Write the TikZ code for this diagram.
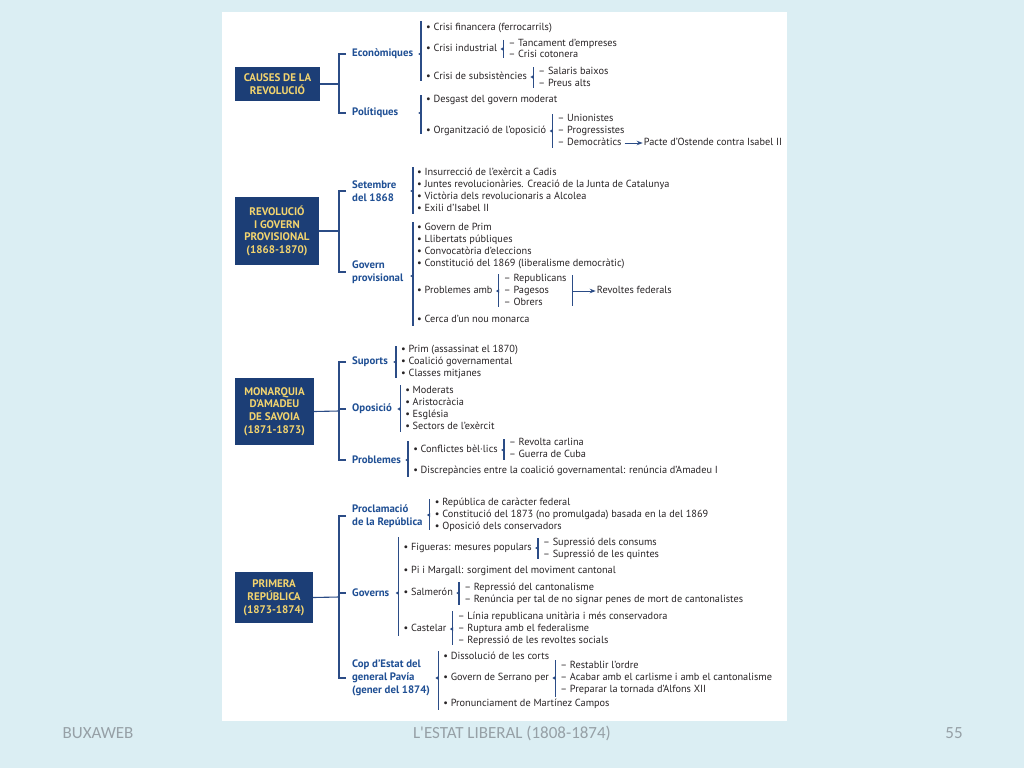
\documentclass[tikz,border=0pt]{standalone}
\usepackage{fontspec}
\setmainfont{PT Sans}
\newfontfamily\footfont{Carlito}
\usetikzlibrary{arrows.meta}
\definecolor{bgc}{RGB}{219,238,243}
\definecolor{navy}{RGB}{28,62,118}
\definecolor{gold}{RGB}{243,212,110}
\definecolor{lblue}{RGB}{31,79,148}
\definecolor{lcol}{RGB}{43,76,134}
\definecolor{txt}{RGB}{40,36,38}
\definecolor{foot}{RGB}{150,160,166}
\newcommand\mybrace[4]{%
  \draw[brc] (#1 |- 0,#2) -- (#1 |- 0,#3);
  \fill[lcol] (#1 |- 0,#4) ++(0.4,-2) -- ++(-3.2,2) -- ++(3.2,2) -- cycle;}
\begin{document}
\begin{tikzpicture}[x=1pt,y=-1pt,
  item/.style={anchor=west,inner sep=0pt,font=\fontsize{10.3}{12}\selectfont,text=txt,text height=7.3pt,text depth=2.3pt},
  lab/.style={anchor=west,inner sep=0pt,font=\fontsize{10.8}{12.8}\selectfont\bfseries,text=lblue,align=left},
  box/.style={fill=navy,text=gold,font=\fontsize{11}{12.8}\selectfont\bfseries,align=center,inner sep=0pt},
  mline/.style={draw=lcol,line width=1.1pt},
  brc/.style={draw=lcol,line width=1.2pt},
  arr/.style={draw=lcol,line width=1pt,-{Stealth[length=6pt,width=4.5pt]}},
  foottext/.style={font=\footfont\fontsize{17}{20}\selectfont,text=foot,inner sep=0pt}]
\useasboundingbox (0,0) rectangle (1024,768);
\fill[bgc] (0,0) rectangle (1024,768);
\fill[white] (222,12) rectangle (787,721);

% ---------- Section 1
\node[box,minimum width=85pt,minimum height=34pt] (b1) at (277.5,84) {CAUSES DE LA\\REVOLUCIÓ};
\node[lab] (eco) at (352,54) {Econòmiques};
\node[lab] (pol) at (352,113) {Polítiques};
\coordinate (j1) at (339,84);
\draw[mline] (b1.east) -- (j1);
\draw[mline] ([xshift=-6pt]eco.west) -| (j1) |- ([xshift=-6pt]pol.west);

\coordinate (be) at (421,0);
\mybrace{be}{21}{81}{54}
\node[item] (e1) at (426,28) {• Crisi financera (ferrocarrils)};
\node[item] (e2) at (426,49) {• Crisi industrial};
\coordinate (bci) at ([xshift=6pt]e2.east);
\mybrace{bci}{40}{58}{49}
\node[item,xshift=5pt] (ci1) at (bci |- 0,44) {– Tancament d'empreses};
\node[item,xshift=5pt] (ci2) at (bci |- 0,55) {– Crisi cotonera};
\node[item] (e3) at (426,77) {• Crisi de subsistències};
\coordinate (bcs) at ([xshift=6pt]e3.east);
\mybrace{bcs}{67}{88}{77}
\node[item,xshift=5pt] (cs1) at (bcs |- 0,72) {– Salaris baixos};
\node[item,xshift=5pt] (cs2) at (bcs |- 0,84) {– Preus alts};

\coordinate (bp) at (421,0);
\mybrace{bp}{95}{134}{113}
\node[item] (p1) at (426,100) {• Desgast del govern moderat};
\node[item] (p2) at (426,131) {• Organització de l'oposició};
\coordinate (boo) at ([xshift=6pt]p2.east);
\mybrace{boo}{114}{148}{131}
\node[item,xshift=5pt] (oo1) at (boo |- 0,119) {– Unionistes};
\node[item,xshift=5pt] (oo2) at (boo |- 0,131) {– Progressistes};
\node[item,xshift=5pt] (dem) at (boo |- 0,143) {– Democràtics};
\node[item] (pac) at ([xshift=22pt]dem.east) {Pacte d'Ostende contra Isabel II};
\draw[arr] ([xshift=3pt]dem.east) -- ([xshift=-1pt]pac.west);

% ---------- Section 2
\node[box,minimum width=84pt,minimum height=68pt] (b2) at (277,231) {REVOLUCIÓ\\I GOVERN\\PROVISIONAL\\(1868-1870)};
\node[lab] (set) at (352,191) {Setembre\\del 1868};
\node[lab] (gov) at (352,272) {Govern\\provisional};
\coordinate (j2) at (339,231);
\draw[mline] (b2.east) -- (j2);
\draw[mline] ([xshift=-6pt]set.west) -| (j2) |- ([xshift=-6pt]gov.west);

\coordinate (bs) at (413,0);
\mybrace{bs}{167}{214}{191}
\node[item] (s1) at (417,173) {• Insurrecció de l'exèrcit a Cadis};
\node[item] (s2) at (417,185) {• Juntes revolucionàries. Creació de la Junta de Catalunya};
\node[item] (s3) at (417,197) {• Victòria dels revolucionaris a Alcolea};
\node[item] (s4) at (417,209) {• Exili d'Isabel II};

\coordinate (bg) at (413,0);
\mybrace{bg}{222}{326}{276}
\node[item] (g1) at (417,228) {• Govern de Prim};
\node[item] (g2) at (417,240) {• Llibertats públiques};
\node[item] (g3) at (417,252) {• Convocatòria d'eleccions};
\node[item] (g4) at (417,264) {• Constitució del 1869 (liberalisme democràtic)};
\node[item] (pa) at (417,291) {• Problemes amb};
\node[item] (g6) at (417,320) {• Cerca d'un nou monarca};
\coordinate (bpa) at ([xshift=6pt]pa.east);
\mybrace{bpa}{274}{307}{291}
\node[item,xshift=5pt] (rep) at (bpa |- 0,279) {– Republicans};
\node[item,xshift=5pt] (pag) at (bpa |- 0,291) {– Pagesos};
\node[item,xshift=5pt] (obr) at (bpa |- 0,303) {– Obrers};
\coordinate (rb) at ([xshift=6pt]rep.east);
\draw[brc] (rb |- 0,275) -- (rb |- 0,306);
\node[item,xshift=24pt] (rf) at (rb |- 0,291) {Revoltes federals};
\draw[arr] (rb |- 0,291) -- ([xshift=-1pt]rf.west);

% ---------- Section 3
\node[box,minimum width=79pt,minimum height=67pt] (b3) at (274.5,411.5) {MONARQUIA\\D'AMADEU\\DE SAVOIA\\(1871-1873)};
\node[lab] (sup) at (352,362) {Suports};
\node[lab] (opo) at (352,409) {Oposició};
\node[lab] (prb) at (352,460) {Problemes};
\coordinate (j3) at (339,411);
\draw[mline] (b3.east) -- (j3);
\draw[mline] ([xshift=-6pt]sup.west) -| (j3) |- ([xshift=-6pt]prb.west);
\draw[mline] (j3 |- opo.west) -- ([xshift=-6pt]opo.west);

\coordinate (bsu) at ([xshift=8pt]sup.east);
\mybrace{bsu}{346}{378}{362}
\node[item,xshift=5pt] (su1) at (bsu |- 0,350) {• Prim (assassinat el 1870)};
\node[item,xshift=5pt] (su2) at (bsu |- 0,362) {• Coalició governamental};
\node[item,xshift=5pt] (su3) at (bsu |- 0,374) {• Classes mitjanes};

\coordinate (bop) at ([xshift=8pt]opo.east);
\mybrace{bop}{385}{432}{409}
\node[item,xshift=5pt] (op1) at (bop |- 0,391) {• Moderats};
\node[item,xshift=5pt] (op2) at (bop |- 0,403) {• Aristocràcia};
\node[item,xshift=5pt] (op3) at (bop |- 0,415) {• Església};
\node[item,xshift=5pt] (op4) at (bop |- 0,427) {• Sectors de l'exèrcit};

\coordinate (bpr) at ([xshift=7pt]prb.east);
\mybrace{bpr}{441}{477}{460}
\node[item,xshift=5pt] (cb) at (bpr |- 0,450) {• Conflictes bèl·lics};
\node[item,xshift=5pt] (dis) at (bpr |- 0,471) {• Discrepàncies entre la coalició governamental: renúncia d'Amadeu I};
\coordinate (bcb) at ([xshift=6pt]cb.east);
\mybrace{bcb}{439}{460}{450}
\node[item,xshift=5pt] (cb1) at (bcb |- 0,443) {– Revolta carlina};
\node[item,xshift=5pt] (cb2) at (bcb |- 0,455) {– Guerra de Cuba};

% ---------- Section 4
\node[box,minimum width=78pt,minimum height=51pt] (b4) at (274,597.5) {PRIMERA\\REPÚBLICA\\(1873-1874)};
\node[lab] (pro) at (352,516) {Proclamació\\de la República};
\node[lab] (gvs) at (352,593) {Governs};
\node[lab] (cop) at (352,678) {Cop d'Estat del\\general Pavía\\(gener del 1874)};
\coordinate (j4) at (339,597);
\draw[mline] (b4.east) -- (j4);
\draw[mline] ([xshift=-6pt]pro.west) -| (j4) |- ([xshift=-6pt]cop.west);
\draw[mline] (j4 |- gvs.west) -- ([xshift=-6pt]gvs.west);

\coordinate (bpc) at ([xshift=7pt]pro.east);
\mybrace{bpc}{499}{530}{515}
\node[item,xshift=5pt] (pc1) at (bpc |- 0,503) {• República de caràcter federal};
\node[item,xshift=5pt] (pc2) at (bpc |- 0,515) {• Constitució del 1873 (no promulgada) basada en la del 1869};
\node[item,xshift=5pt] (pc3) at (bpc |- 0,527) {• Oposició dels conservadors};

\coordinate (bgv) at ([xshift=9pt]gvs.east);
\mybrace{bgv}{537}{636}{593}
\node[item,xshift=5pt] (fig) at (bgv |- 0,548) {• Figueras: mesures populars};
\node[item,xshift=5pt] (pim) at (bgv |- 0,571) {• Pi i Margall: sorgiment del moviment cantonal};
\node[item,xshift=5pt] (sal) at (bgv |- 0,593) {• Salmerón};
\node[item,xshift=5pt] (cas) at (bgv |- 0,629) {• Castelar};
\coordinate (bfi) at ([xshift=6pt]fig.east);
\mybrace{bfi}{538}{559}{548}
\node[item,xshift=5pt] (fi1) at (bfi |- 0,543) {– Supressió dels consums};
\node[item,xshift=5pt] (fi2) at (bfi |- 0,555) {– Supressió de les quintes};
\coordinate (bsa) at ([xshift=6pt]sal.east);
\mybrace{bsa}{582}{605}{593}
\node[item,xshift=5pt] (sa1) at (bsa |- 0,588) {– Repressió del cantonalisme};
\node[item,xshift=5pt] (sa2) at (bsa |- 0,600) {– Renúncia per tal de no signar penes de mort de cantonalistes};
\coordinate (bca) at ([xshift=6pt]cas.east);
\mybrace{bca}{611}{645}{629}
\node[item,xshift=5pt] (ca1) at (bca |- 0,617) {– Línia republicana unitària i més conservadora};
\node[item,xshift=5pt] (ca2) at (bca |- 0,629) {– Ruptura amb el federalisme};
\node[item,xshift=5pt] (ca3) at (bca |- 0,641) {– Repressió de les revoltes socials};

\coordinate (bcp) at ([xshift=8pt]cop.east);
\mybrace{bcp}{651}{710}{678}
\node[item,xshift=5pt] (cp1) at (bcp |- 0,657) {• Dissolució de les corts};
\node[item,xshift=5pt] (ser) at (bcp |- 0,678) {• Govern de Serrano per};
\node[item,xshift=5pt] (cp3) at (bcp |- 0,704) {• Pronunciament de Martínez Campos};
\coordinate (bse) at ([xshift=6pt]ser.east);
\mybrace{bse}{660}{697}{678}
\node[item,xshift=5pt] (se1) at (bse |- 0,666) {– Restablir l'ordre};
\node[item,xshift=5pt] (se2) at (bse |- 0,678) {– Acabar amb el carlisme i amb el cantonalisme};
\node[item,xshift=5pt] (se3) at (bse |- 0,690) {– Preparar la tornada d'Alfons XII};

% ---------- Footer
\node[foottext] (f1) at (98,733) {BUXAWEB};
\node[foottext] (f2) at (512,733) {L'ESTAT LIBERAL (1808-1874)};
\node[foottext] (f3) at (954,733) {55};
\end{tikzpicture}
\end{document}
